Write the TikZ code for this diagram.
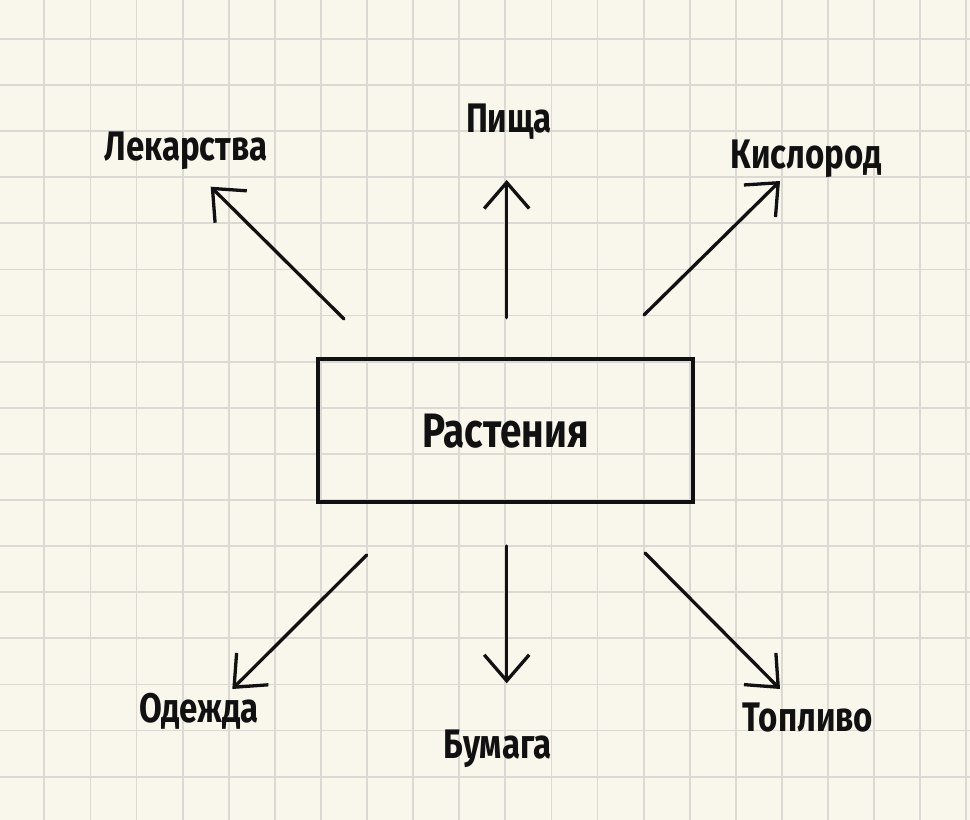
\documentclass[tikz,border=0pt]{standalone}
\usepackage{fontspec}
\setmainfont{Fira Sans}[FakeStretch=0.8]
\usetikzlibrary{arrows.meta}
\definecolor{paper}{HTML}{F9F6EC}
\definecolor{gridgray}{HTML}{DCD8D3}
\definecolor{ink}{HTML}{111111}
\tikzset{
  gridline/.style={gridgray,line width=0.036cm},
  usearrow/.style={ink,line width=0.066cm,line cap=round,-{Straight Barb[length=0.52cm,width=0.9cm,line width=0.066cm]}},
  plantbox/.style={draw=ink,line width=0.07cm,minimum width=7.5cm,minimum height=2.86cm,inner sep=0pt,font=\bfseries\fontsize{27.5}{30}\selectfont,text=ink}
}
\begin{document}
\begin{tikzpicture}[x=0.02cm,y=-0.02cm]
            \useasboundingbox[fill=paper] (0,0) rectangle (970,820);
            \foreach \i in {0,...,20}
              \draw[gridline] ({44.3+46.1*\i},0) -- ++(0,820);
            \foreach \j in {0,...,16}
              \draw[gridline] (0,{39+46.1*\j}) -- ++(970,0);

            \node[plantbox] (plant) at (505.7,430.7) {Растения};

            \begin{scope}[every node/.style={text=ink,inner sep=0pt,font=\bfseries\fontsize{23.5}{27}\selectfont}]
            \node (lek) at (186,151) {Лекарства};
            \node (food) at (509,122) {Пища};
            \node (oxy) at (806,159) {Кислород};
            \node (cloth) at (199,711) {Одежда};
            \node (paperlbl) at (497.5,749) {Бумага};
            \node (fuel) at (808,718) {Топливо};
            \end{scope}

            \coordinate (lek-s) at (344,319);   \coordinate (lek-t) at (210.7,186.7);
            \coordinate (food-s) at (506.7,317.7); \coordinate (food-t) at (506.7,180);
            \coordinate (oxy-s) at (644,315);   \coordinate (oxy-t) at (780,181);
            \coordinate (cloth-s) at (366.7,555); \coordinate (cloth-t) at (232.3,689);
            \coordinate (paper-s) at (506.7,546); \coordinate (paper-t) at (506.7,683.3);
            \coordinate (fuel-s) at (645,553);  \coordinate (fuel-t) at (780,689);

            \foreach \a in {lek,food,oxy,cloth,paper,fuel}
              \draw[usearrow] (\a-s) -- (\a-t);
            \end{tikzpicture}
\end{document}
